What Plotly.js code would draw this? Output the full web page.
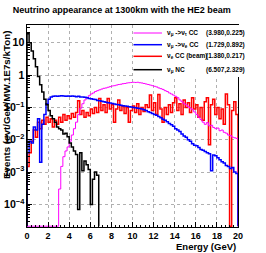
<!DOCTYPE html>
<html><head><meta charset="utf-8">
<script src="https://cdn.plot.ly/plotly-3.0.1.min.js"></script>
<style>html,body{margin:0;padding:0;background:#fff;}#chart{width:266px;height:253px;}</style>
</head><body><div id="chart"></div>
<script>
// ---- data (0.2 GeV bins starting at 0 GeV) ----
const binWidth = 0.2;
const nutauCC = [0,0,0,0,0,0,0,0,0,0,0,0,0,0,0,
 0.0003,0.0015,0.003,0.0045,0.006,0.009,0.014,0.022,0.035,0.06,
 0.095,0.13,0.17,0.2,0.23,0.26,0.28,0.31,0.33,0.35,
 0.37,0.39,0.4,0.42,0.44,0.46,0.47,0.49,0.51,0.52,
 0.54,0.55,0.57,0.58,0.59,0.6,0.59,0.6,0.58,0.57,
 0.55,0.53,0.51,0.49,0.47,0.45,0.43,0.4,0.38,0.36,
 0.33,0.31,0.28,0.26,0.24,0.22,0.2,0.17,0.15,0.13,
 0.12,0.105,0.095,0.085,0.072,0.06,0.05,0.042,0.035,0.03,
 0.034,0.027,0.028,0.024,0.022,0.023,0.019,0.02,0.017,0.016,
 0.014,0.0135,0.012,0.0115,0.011];
const nueAppCC = [0.004,0.009,0.008,0.025,0.02,0.045,0.002,0.03,0.06,0.13,
 0.18,0.21,0.22,0.225,0.22,0.225,0.23,0.225,0.22,0.225,
 0.22,0.225,0.22,0.215,0.22,0.21,0.21,0.205,0.2,0.19,
 0.185,0.18,0.175,0.165,0.16,0.155,0.15,0.145,0.14,0.138,
 0.133,0.128,0.124,0.12,0.116,0.113,0.11,0.108,0.105,0.103,
 0.1,0.098,0.095,0.093,0.09,0.085,0.08,0.074,0.07,0.065,
 0.06,0.057,0.052,0.048,0.043,0.04,0.036,0.032,0.029,0.026,
 0.022,0.02,0.018,0.015,0.013,0.012,0.01,0.009,0.0075,0.0068,
 0.0065,0.0058,0.005,0.0047,0.0043,0.004,0.0037,0.0011,0.0034,0.0032,
 0.0028,0.0024,0.0021,0.0019,0.0016,0.0015,0.0013,0.0014,0.001,0.0009];
const nueBeamCC = [0.0015,0.004,0.009,0.02,0.012,0.035,0.022,0.04,0.03,0.05,
 0.035,0.045,0.025,0.04,0.03,0.05,0.035,0.06,0.04,0.055,
 0.045,0.065,0.05,0.07,0.16,0.06,0.08,0.05,0.07,0.055,
 0.09,0.065,0.1,0.07,0.19,0.08,0.12,0.07,0.19,0.09,
 0.12,0.035,0.09,0.17,0.08,0.11,0.065,0.1,0.035,0.08,
 0.11,0.07,0.13,0.06,0.1,0.075,0.12,0.1,0.24,0.08,
 0.14,0.06,0.25,0.09,0.035,0.1,0.06,0.12,0.07,0.14,
 0.2,0.08,0.13,0.06,0.17,0.1,0.14,0.07,0.2,0.09,
 0.12,0.05,0.1,0.04,0.15,0.2,0.007,0.12,0.18,0.06,
 0.1,0.045,0.09,0.03,0.26,0.12,0,0.08,0.15,0.06];
const numuNC = [19,10,5.5,3.2,1.8,0.9,0.5,0.3,0.18,0.12,
 0.08,0.055,0.045,0.035,0.025,0.022,0.02,0.015,0.016,0.0125,
 0.008,0.006,0.0045,0.0035,0.00007,0.004,0.0011,0.0022,0.0017,0.0012,
 0.0001,0.0006,0.001,0.0008];
const legendNames = ['ν<sub>μ</sub> ->ν<sub>τ</sub> CC','ν<sub>μ</sub> ->ν<sub>e</sub> CC','ν<sub>e</sub> CC (beam)','ν<sub>μ</sub> NC'];
const legendStats = ['(3.980,0.225)','(1.729,0.892)','(1.380,0.217)','(6.507,2.329)'];
const xTickVals = [0,2,4,6,8,10,12,14,16,18,20];

// ---- styling ----
const FONT = 'Liberation Sans, Arial, Helvetica, sans-serif';
const yLogMin = -4.697, yLogMax = 1.548;
const floorVal = Math.pow(10, yLogMin + 0.025);
const colors = ['#ff00ff','#0000ff','#ff0000','#000000'];
const widths = [1,1.5,1.5,1.5];
const seriesList = [nutauCC, nueAppCC, nueBeamCC, numuNC];

function steps(vals){
  const x=[0], y=[floorVal];
  vals.forEach((v,i)=>{ x.push(i*binWidth); y.push(v>0?v:floorVal); });
  x.push(vals.length*binWidth); y.push(floorVal);
  return {x,y};
}
const drawOrder = [2,0,1,3];
const traces = drawOrder.map(k=>{
  const s = steps(seriesList[k]);
  return {x:s.x,y:s.y,type:'scatter',mode:'lines',line:{shape:'hv',color:colors[k],width:widths[k]},
    name:legendNames[k],showlegend:false,hoverinfo:'skip'};
});

// plot-area pixel -> paper helpers for decorations
const L=27,R=238,T=25,B=227;
const PX=p=>(p-L)/(R-L), PY=p=>(B-p)/(B-T);

const rowsY=[33,44.7,56.3,69.7];
const shapes=[{type:'rect',xref:'paper',yref:'paper',x0:PX(133),x1:PX(250),y0:PY(77),y1:PY(25),
  fillcolor:'#ffffff',line:{width:0},layer:'above'}];
const annotations=[];
rowsY.forEach((py,i)=>{
  shapes.push({type:'line',xref:'paper',yref:'paper',x0:PX(133.5),x1:PX(162),y0:PY(py),y1:PY(py),
    line:{color:colors[i],width:widths[i]},layer:'above'});
  annotations.push({xref:'paper',yref:'paper',x:PX(165),y:PY(py),xanchor:'left',yanchor:'middle',
    text:legendNames[i],showarrow:false,font:{family:FONT,size:6.5,weight:'bold',color:'#000'}});
  annotations.push({xref:'paper',yref:'paper',x:PX(246.5),y:PY(py),xanchor:'right',yanchor:'middle',
    text:legendStats[i],showarrow:false,font:{family:FONT,size:6.5,weight:'bold',color:'#000'}});
});
annotations.push({xref:'paper',yref:'paper',x:PX(6),y:PY(105),textangle:-90,xanchor:'center',yanchor:'middle',
  text:'Events (evt/GeV/MW.1E7s/kTon)',showarrow:false,font:{family:FONT,size:9.8,weight:'bold',color:'#000'}});
annotations.push({xref:'paper',yref:'paper',x:PX(237.5),y:PY(246.5),xanchor:'right',yanchor:'middle',
  text:'Energy (GeV)',showarrow:false,font:{family:FONT,size:9.5,weight:'bold',color:'#000'}});

const layout={
  width:266,height:253,
  margin:{l:L,r:266-R,t:T,b:253-B,pad:0},
  paper_bgcolor:'#fff',plot_bgcolor:'#fff',
  showlegend:false,
  title:{text:'Neutrino appearance at 1300km with the HE2 beam',x:121.7/266,xref:'container',xanchor:'center',
    y:1-10/253,yref:'container',yanchor:'middle',font:{family:FONT,size:9,weight:'bold',color:'#000'}},
  xaxis:{range:[0,20],tickvals:xTickVals,ticktext:xTickVals.map(String),ticks:'inside',ticklen:5,tickcolor:'#000',
    showline:true,linecolor:'#000',linewidth:1,mirror:true,showgrid:true,gridcolor:'#b0b0b0',griddash:'dot',gridwidth:1,
    zeroline:false,tickfont:{family:FONT,size:9,weight:'bold',color:'#000'},
    minor:{ticks:'inside',ticklen:2.5,dtick:0.4,tickcolor:'#000',showgrid:false}},
  yaxis:{type:'log',range:[yLogMin,yLogMax],dtick:1,exponentformat:'power',ticks:'inside',ticklen:5,tickcolor:'#000',
    showline:true,linecolor:'#000',linewidth:1,mirror:true,showgrid:true,gridcolor:'#b0b0b0',griddash:'dot',gridwidth:1,
    zeroline:false,tickfont:{family:FONT,size:8.5,weight:'bold',color:'#000'},
    minor:{ticks:'inside',ticklen:2.5,dtick:'D1',tickcolor:'#000',showgrid:false}},
  shapes:shapes,annotations:annotations
};
Plotly.newPlot('chart',traces,layout,{staticPlot:true,displayModeBar:false});
</script></body></html>
